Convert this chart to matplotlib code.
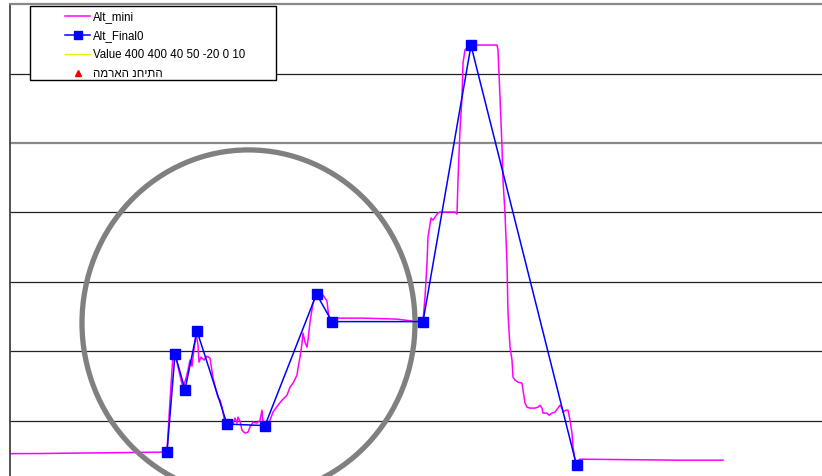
import numpy as np
import matplotlib.pyplot as plt
from matplotlib.patches import Ellipse, Rectangle
from matplotlib.lines import Line2D

plt.rcParams['font.family'] = ['Liberation Sans', 'DejaVu Sans']

# Alt_mini trace (time, altitude)
mini_t = [0, 30, 70, 110, 155, 157, 160, 163, 166, 170, 173, 176, 178, 180, 182,
          183, 185, 186, 188, 189, 191, 194, 197, 200, 203, 206, 208, 210, 212,
          215, 218, 220, 222, 225, 227, 228, 230, 232, 235, 238, 240, 243, 247,
          250, 252, 253, 256, 260, 263, 268, 272, 277, 280, 283, 287, 288, 290,
          292, 293, 295, 297, 298, 300, 303, 306, 310, 313, 317, 318, 320, 323,
          327, 353, 387, 402, 413, 415, 417, 418, 421, 423, 425, 428, 430, 437,
          445, 447, 448, 450, 452, 453, 455, 457, 460, 467, 477, 487, 488, 490,
          492, 493, 495, 497, 498, 500, 502, 503, 505, 508, 512, 513, 515, 517,
          520, 525, 528, 530, 532, 533, 537, 539, 542, 545, 548, 550, 552, 553,
          556, 558, 560, 562, 563, 565, 567, 570, 610, 670, 713]
mini_alt = [26.3, 26.4, 26.7, 27.0, 27.4, 28.1, 64.8, 97.3, 95.1, 82.9, 73.5,
            80.7, 86.5, 93.7, 89.3, 95.8, 106.6, 113.1, 104.5, 92.2, 95.8, 93.7,
            96.5, 95.1, 80.7, 72.1, 67.0, 64.8, 59.8, 48.3, 44.7, 47.6, 46.1,
            51.9, 48.3, 52.6, 49.7, 43.2, 41.1, 41.8, 45.4, 49.0, 48.3, 50.4,
            57.6, 48.3, 45.4, 50.4, 56.2, 61.2, 64.8, 68.4, 74.2, 77.1, 82.9,
            87.9, 95.8, 105.9, 113.1, 106.6, 103.0, 108.1, 121.0, 134.7, 140.5,
            139.1, 140.5, 136.2, 129.7, 118.2, 121.0, 123.9, 123.9, 123.2, 121.8,
            121.8, 139.1, 163.6, 182.3, 196.0, 194.5, 196.7, 199.6, 200.3, 200.3,
            200.3, 198.9, 223.4, 259.4, 283.2, 307.7, 317.0, 318.5, 320.6, 320.6,
            320.6, 320.6, 317.0, 283.2, 247.1, 223.4, 199.6, 163.6, 127.5, 103.0,
            93.7, 81.4, 79.3, 77.8, 77.1, 72.1, 62.7, 59.8, 59.1, 59.1, 59.8,
            61.2, 59.1, 55.5, 55.5, 54.0, 55.5, 56.2, 59.1, 61.2, 59.1, 56.2,
            57.6, 57.6, 50.4, 41.1, 31.0, 21.6, 20.9, 22.3, 22.0, 21.6, 21.6]

# Alt_Final0 key points
final_t = [157, 165, 175, 187, 217, 255, 306.5, 322, 413, 461, 566.5]
final_alt = [27.4, 98.0, 72.4, 114.6, 47.6, 46.5, 141.2, 121.4, 121.4, 320.3, 18.0]

grid_levels = [50, 100, 150, 200, 250, 300]

fig = plt.figure(figsize=(8.22, 4.76), dpi=100)
ax = fig.add_axes([10 / 822, 0, 812 / 822, 471.8 / 476])
ax.set_xlim(0, 812)
ax.set_ylim(10.2, 350)

for lvl in grid_levels:
    if lvl == 250:
        ax.axhline(lvl, color='#888888', lw=1.6, zorder=1)
    else:
        ax.axhline(lvl, color='#222222', lw=0.9, zorder=1)

ax.plot(mini_t, mini_alt, color='#ff00ff', lw=1.1, zorder=2)
ax.plot(final_t, final_alt, color='#0000ff', lw=1.1, marker='s', ms=6.5,
        markeredgecolor='#0000ff', zorder=4)

# highlight ring around the takeoff phase
ring = Ellipse((238.5, 120.4), 333, 249.3, facecolor='none',
               edgecolor='#808080', lw=3.8, zorder=3)
ax.add_patch(ring)

ax.set_xticks([])
ax.set_yticks([])
for side in ['right', 'bottom']:
    ax.spines[side].set_visible(False)
ax.spines['left'].set_color('#444444')
ax.spines['left'].set_linewidth(1.3)
ax.spines['top'].set_color('#888888')
ax.spines['top'].set_linewidth(1.6)

handles = [
    Line2D([], [], color='#ff00ff', lw=1.1),
    Line2D([], [], color='#0000ff', lw=1.1, marker='s', ms=6),
    Line2D([], [], color='#f0f000', lw=1.0),
    Line2D([], [], color='red', lw=0, marker='^', ms=5),
]
labels = ['Alt_mini', 'Alt_Final0', 'Value 400 400 40 50 -20 0 10', 'המראה נחיתה']

fig.patches.append(Rectangle((30 / 822, 1 - 80 / 476), 246 / 822, 74 / 476,
                             transform=fig.transFigure, facecolor='white',
                             edgecolor='black', lw=1.0, zorder=5))
leg = fig.legend(handles, labels, loc='upper left',
                 bbox_to_anchor=(65 / 822, 1 - 11 / 476),
                 frameon=False, fontsize=8.3, borderpad=0, borderaxespad=0,
                 handlelength=2.2, handletextpad=0.2, labelspacing=0.6)
leg.set_zorder(6)

fig.savefig('out.png', dpi=100)
